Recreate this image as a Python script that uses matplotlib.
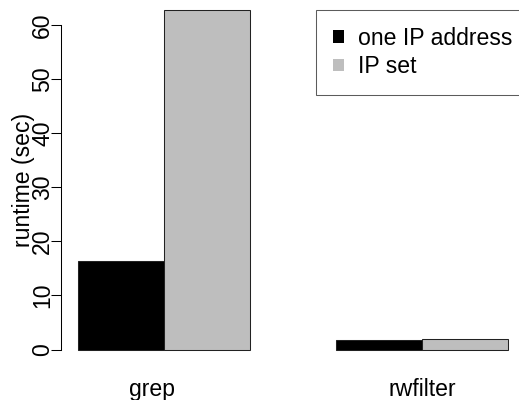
import numpy as np
import matplotlib
matplotlib.use('Agg')
import matplotlib.pyplot as plt
from matplotlib.patches import Patch

plt.rcParams['font.family'] = ['Liberation Sans', 'DejaVu Sans']
plt.rcParams['font.size'] = 16.6

categories = ['grep', 'rwfilter']
one_ip = [16.4, 1.7]
ip_set = [62.8, 2.0]
series_names = ['one IP address', 'IP set']
colors = ['#000000', '#bebebe']
yticks = [0, 10, 20, 30, 40, 50, 60]

# R barplot(beside=TRUE) layout: bar width 1, one bar gap between groups
start = np.arange(len(categories)) * 3 + 1
x_one = start + 0.5
x_set = start + 1.5
label_pos = [1.86, 5.0]

W, H = 519, 400
fig = plt.figure(figsize=(W / 100, H / 100), dpi=100)
# plot region in pixels (R-style: 4% padding on the data range)
left_px, right_px = 60.8, 525.2
bot_px, top_px = 363.1, -3.7
ax = fig.add_axes([left_px / W, (H - bot_px) / H,
                   (right_px - left_px) / W, (bot_px - top_px) / H])

lw = 0.75
ax.bar(x_one, one_ip, width=1.0, color=colors[0], edgecolor='#222222', linewidth=lw)
ax.bar(x_set, ip_set, width=1.0, color=colors[1], edgecolor='#222222', linewidth=lw)

ymax = max(max(one_ip), max(ip_set))
ax.set_xlim(start[0] - 0.2, start[-1] + 2 + 0.2)
ax.set_ylim(-0.04 * ymax, 1.04 * ymax)

for s in ['top', 'right', 'bottom']:
    ax.spines[s].set_visible(False)
ax.spines['left'].set_bounds(yticks[0], yticks[-1])
ax.spines['left'].set_linewidth(lw)

ax.set_yticks(yticks)
ax.tick_params(axis='y', length=7, width=lw, pad=-2.2)
for lbl in ax.get_yticklabels():
    lbl.set_rotation(90)
    lbl.set_va('center')

ax.set_xticks(label_pos)
ax.set_xticklabels(categories)
ax.tick_params(axis='x', length=0, pad=10.5)

ax.set_ylabel('runtime (sec)')
ax.yaxis.set_label_coords(-26.0 / (right_px - left_px), 0.5)

handles = [Patch(facecolor=c, edgecolor='none') for c in colors]
leg = fig.legend(handles, series_names, loc='upper left',
                 bbox_to_anchor=(316 / W, (H - 10) / H), borderaxespad=0,
                 fancybox=False, frameon=True, handlelength=0.48, handleheight=0.48,
                 handletextpad=0.62, borderpad=0.73, labelspacing=0.23)
leg.get_frame().set_edgecolor('#333333')
leg.get_frame().set_linewidth(lw)

fig.savefig('out.png', dpi=100)
